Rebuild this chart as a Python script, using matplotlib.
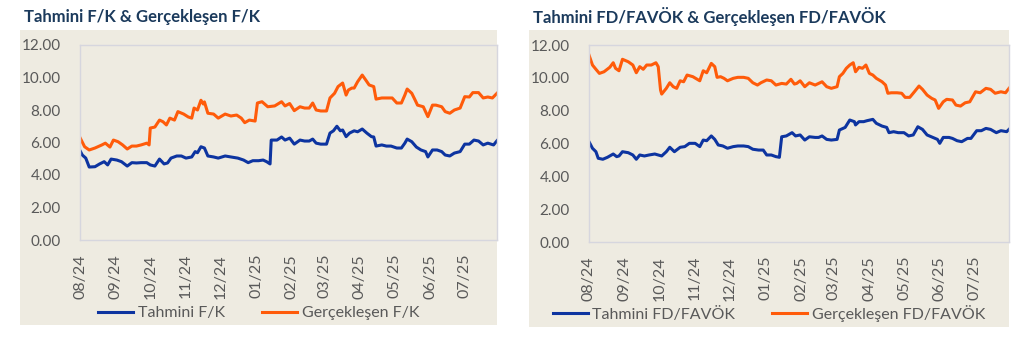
import pandas as pd
import matplotlib
matplotlib.use("Agg")
import matplotlib.pyplot as plt
import matplotlib.dates as mdates
from matplotlib.patches import Rectangle

# --- Sol grafik: Tahmini F/K & Gerçekleşen F/K ---
fk_tahmini_dates = [
    "2024-08-01", "2024-08-03", "2024-08-06", "2024-08-09", "2024-08-14", "2024-08-18", "2024-08-22", "2024-08-25", "2024-08-28",
    "2024-09-02", "2024-09-06", "2024-09-11", "2024-09-15", "2024-09-19", "2024-09-23", "2024-09-28",
    "2024-10-01", "2024-10-05", "2024-10-09", "2024-10-13", "2024-10-16", "2024-10-19", "2024-10-24", "2024-10-28",
    "2024-11-01", "2024-11-06", "2024-11-09", "2024-11-11", "2024-11-14", "2024-11-17", "2024-11-20", "2024-11-25", "2024-11-29",
    "2024-12-05", "2024-12-10", "2024-12-16", "2024-12-21", "2024-12-25", "2024-12-29",
    "2025-01-03", "2025-01-07", "2025-01-10", "2025-01-13", "2025-01-14", "2025-01-19", "2025-01-23", "2025-01-26", "2025-01-30",
    "2025-02-03", "2025-02-08", "2025-02-12", "2025-02-16", "2025-02-19", "2025-02-22", "2025-02-26",
    "2025-03-03", "2025-03-06", "2025-03-09", "2025-03-12", "2025-03-15", "2025-03-17", "2025-03-20", "2025-03-23", "2025-03-27", "2025-03-30",
    "2025-04-03", "2025-04-07", "2025-04-11", "2025-04-13", "2025-04-15", "2025-04-20", "2025-04-24", "2025-04-28",
    "2025-05-03", "2025-05-07", "2025-05-10", "2025-05-12", "2025-05-16", "2025-05-20", "2025-05-24", "2025-05-28", "2025-05-30",
    "2025-06-03", "2025-06-07", "2025-06-11", "2025-06-14", "2025-06-18", "2025-06-22", "2025-06-27",
    "2025-07-01", "2025-07-05", "2025-07-09", "2025-07-13", "2025-07-17", "2025-07-21", "2025-07-26", "2025-07-29",
]
fk_tahmini = [
    5.50, 5.23, 5.04, 4.49, 4.51, 4.68, 4.82, 4.62, 4.98,
    4.92, 4.82, 4.55, 4.76, 4.74, 4.76, 4.76,
    4.62, 4.55, 4.98, 4.68, 4.74, 5.04, 5.17, 5.17,
    5.04, 5.11, 5.44, 5.37, 5.74, 5.66, 5.17, 5.11, 5.04,
    5.17, 5.11, 5.04, 4.92, 4.76, 4.88,
    4.88, 4.92, 4.82, 4.68, 6.15, 6.15, 6.34, 6.15, 6.27,
    5.90, 6.15, 6.09, 6.09, 6.21, 5.96, 5.90,
    5.90, 6.58, 6.72, 7.00, 6.72, 6.77, 6.36, 6.58, 6.72, 6.66,
    6.83, 6.58, 6.36, 6.34, 5.78, 5.85, 5.78, 5.78,
    5.66, 5.66, 5.96, 6.21, 6.05, 5.72, 5.54, 5.44, 5.11,
    5.54, 5.54, 5.44, 5.23, 5.17, 5.35, 5.44,
    5.90, 5.90, 6.15, 6.09, 5.85, 5.96, 5.85, 6.11,
]

fk_gercek_dates = [
    "2024-08-01", "2024-08-05", "2024-08-09", "2024-08-14", "2024-08-20", "2024-08-23", "2024-08-27", "2024-08-30",
    "2024-09-03", "2024-09-07", "2024-09-11", "2024-09-15", "2024-09-19", "2024-09-23", "2024-09-28", "2024-09-30",
    "2024-10-01", "2024-10-05", "2024-10-09", "2024-10-12", "2024-10-15", "2024-10-18", "2024-10-22", "2024-10-25", "2024-10-30",
    "2024-11-03", "2024-11-06", "2024-11-08", "2024-11-11", "2024-11-14", "2024-11-16", "2024-11-17", "2024-11-20", "2024-11-25", "2024-11-29",
    "2024-12-05", "2024-12-10", "2024-12-15", "2024-12-19", "2024-12-22", "2024-12-26", "2024-12-31",
    "2025-01-02", "2025-01-06", "2025-01-11", "2025-01-17", "2025-01-23", "2025-01-26", "2025-01-30",
    "2025-02-03", "2025-02-08", "2025-02-12", "2025-02-16", "2025-02-19", "2025-02-22", "2025-02-26",
    "2025-03-03", "2025-03-06", "2025-03-10", "2025-03-13", "2025-03-17", "2025-03-20", "2025-03-22", "2025-03-25", "2025-03-27", "2025-03-30",
    "2025-04-03", "2025-04-06", "2025-04-09", "2025-04-13", "2025-04-15", "2025-04-20", "2025-04-24", "2025-04-29",
    "2025-05-03", "2025-05-07", "2025-05-10", "2025-05-12", "2025-05-16", "2025-05-19", "2025-05-21", "2025-05-26", "2025-05-30",
    "2025-06-03", "2025-06-06", "2025-06-11", "2025-06-14", "2025-06-18", "2025-06-22", "2025-06-27",
    "2025-07-01", "2025-07-05", "2025-07-08", "2025-07-13", "2025-07-17", "2025-07-21", "2025-07-25", "2025-07-29",
]
fk_gercek = [
    6.30, 5.74, 5.54, 5.66, 5.85, 5.96, 5.72, 6.15,
    6.05, 5.85, 5.60, 5.78, 5.78, 5.85, 5.96, 5.85,
    6.89, 6.95, 7.38, 7.28, 7.08, 7.50, 7.38, 7.90, 7.75,
    7.57, 7.50, 8.12, 8.00, 8.60, 8.37, 8.50, 7.80, 7.75, 7.50,
    7.75, 7.63, 7.69, 7.50, 7.22, 7.38, 7.32,
    8.43, 8.51, 8.20, 8.25, 8.51, 8.25, 8.40,
    7.96, 8.20, 8.12, 8.12, 8.43, 8.00, 7.94,
    7.94, 8.74, 9.03, 9.44, 9.66, 8.92, 9.23, 9.35, 9.35, 9.74,
    10.15, 9.85, 9.54, 9.44, 8.67, 8.74, 8.74, 8.74,
    8.43, 8.43, 8.92, 9.29, 9.03, 8.60, 8.30, 8.20, 7.59,
    8.30, 8.30, 8.20, 7.90, 7.80, 8.00, 8.12,
    8.82, 8.80, 9.07, 9.07, 8.74, 8.80, 8.74, 9.03,
]

# --- Sağ grafik: Tahmini FD/FAVÖK & Gerçekleşen FD/FAVÖK ---
fd_tahmini_dates = [
    "2024-08-01", "2024-08-04", "2024-08-07", "2024-08-09", "2024-08-13", "2024-08-17", "2024-08-22", "2024-08-25", "2024-08-27", "2024-08-30",
    "2024-09-04", "2024-09-08", "2024-09-11", "2024-09-14", "2024-09-18", "2024-09-22", "2024-09-27", "2024-09-30",
    "2024-10-03", "2024-10-07", "2024-10-10", "2024-10-14", "2024-10-19", "2024-10-23", "2024-10-27",
    "2024-11-01", "2024-11-05", "2024-11-08", "2024-11-11", "2024-11-15", "2024-11-18", "2024-11-21", "2024-11-25", "2024-11-29",
    "2024-12-04", "2024-12-08", "2024-12-13", "2024-12-17", "2024-12-21", "2024-12-26", "2024-12-30",
    "2025-01-02", "2025-01-06", "2025-01-10", "2025-01-13", "2025-01-15", "2025-01-19", "2025-01-24", "2025-01-27", "2025-01-31",
    "2025-02-04", "2025-02-08", "2025-02-13", "2025-02-16", "2025-02-19", "2025-02-23", "2025-02-27",
    "2025-03-04", "2025-03-06", "2025-03-11", "2025-03-15", "2025-03-19", "2025-03-20", "2025-03-23", "2025-03-27", "2025-03-30",
    "2025-04-04", "2025-04-07", "2025-04-12", "2025-04-16", "2025-04-18", "2025-04-22", "2025-04-26",
    "2025-05-01", "2025-05-05", "2025-05-09", "2025-05-13", "2025-05-17", "2025-05-21", "2025-05-26", "2025-05-30",
    "2025-06-01", "2025-06-04", "2025-06-09", "2025-06-12", "2025-06-16", "2025-06-20", "2025-06-25", "2025-06-28",
    "2025-07-03", "2025-07-07", "2025-07-11", "2025-07-15", "2025-07-20", "2025-07-24", "2025-07-29", "2025-07-31",
]
fd_tahmini = [
    6.11, 5.71, 5.50, 5.10, 5.04, 5.16, 5.36, 5.20, 5.24, 5.50,
    5.44, 5.30, 5.04, 5.30, 5.24, 5.30, 5.36, 5.30,
    5.24, 5.50, 5.77, 5.50, 5.77, 5.81, 6.01,
    6.01, 5.81, 6.21, 6.17, 6.46, 6.25, 5.91, 5.85, 5.71,
    5.81, 5.85, 5.85, 5.81, 5.65, 5.60, 5.60,
    5.30, 5.30, 5.20, 5.16, 6.41, 6.46, 6.66, 6.46, 6.52,
    6.21, 6.41, 6.37, 6.37, 6.46, 6.25, 6.21,
    6.25, 6.82, 6.98, 7.43, 7.33, 7.13, 7.33, 7.33, 7.39,
    7.47, 7.23, 7.06, 6.98, 6.66, 6.72, 6.66,
    6.66, 6.46, 6.52, 7.02, 6.86, 6.52, 6.37, 6.25,
    6.01, 6.37, 6.37, 6.31, 6.17, 6.11, 6.31, 6.31,
    6.78, 6.78, 6.92, 6.86, 6.66, 6.78, 6.72, 6.86,
]

fd_gercek_dates = [
    "2024-08-01", "2024-08-04", "2024-08-07", "2024-08-10", "2024-08-14", "2024-08-19", "2024-08-22", "2024-08-24", "2024-08-27", "2024-08-30",
    "2024-09-04", "2024-09-08", "2024-09-11", "2024-09-14", "2024-09-17", "2024-09-20", "2024-09-24", "2024-09-28", "2024-09-30",
    "2024-10-02", "2024-10-03", "2024-10-07", "2024-10-10", "2024-10-13", "2024-10-16", "2024-10-19", "2024-10-22", "2024-10-25", "2024-10-30",
    "2024-11-05", "2024-11-08", "2024-11-11", "2024-11-15", "2024-11-18", "2024-11-20", "2024-11-23", "2024-11-26", "2024-11-29",
    "2024-12-04", "2024-12-08", "2024-12-13", "2024-12-17", "2024-12-21", "2024-12-25", "2024-12-28",
    "2025-01-02", "2025-01-06", "2025-01-10", "2025-01-15", "2025-01-19", "2025-01-23", "2025-01-26", "2025-01-28", "2025-01-31",
    "2025-02-04", "2025-02-08", "2025-02-13", "2025-02-16", "2025-02-19", "2025-02-23", "2025-02-27",
    "2025-03-04", "2025-03-06", "2025-03-09", "2025-03-12", "2025-03-15", "2025-03-18", "2025-03-20", "2025-03-23", "2025-03-26", "2025-03-29",
    "2025-04-01", "2025-04-04", "2025-04-07", "2025-04-12", "2025-04-15", "2025-04-17", "2025-04-20", "2025-04-25", "2025-04-29",
    "2025-05-02", "2025-05-06", "2025-05-10", "2025-05-14", "2025-05-17", "2025-05-21", "2025-05-25", "2025-05-28", "2025-05-31",
    "2025-06-04", "2025-06-07", "2025-06-12", "2025-06-15", "2025-06-19", "2025-06-23", "2025-06-27",
    "2025-07-02", "2025-07-06", "2025-07-11", "2025-07-15", "2025-07-19", "2025-07-24", "2025-07-28", "2025-07-31",
]
fd_gercek = [
    11.39, 10.78, 10.52, 10.27, 10.37, 10.64, 10.92, 10.58, 10.43, 11.13,
    10.98, 10.78, 10.31, 10.68, 10.52, 10.78, 10.78, 10.92, 10.68,
    9.26, 9.01, 9.36, 9.70, 9.46, 9.36, 9.82, 9.76, 10.17, 10.07,
    9.82, 10.43, 10.31, 10.88, 10.68, 10.03, 10.07, 9.97, 9.82,
    9.97, 10.03, 10.03, 9.97, 9.70, 9.56, 9.70,
    9.87, 9.82, 9.56, 9.66, 9.62, 9.91, 9.62, 9.66, 9.82,
    9.46, 9.70, 9.56, 9.66, 9.76, 9.46, 9.36,
    9.46, 10.07, 10.27, 10.58, 10.78, 10.92, 10.37, 10.64, 10.58, 10.78,
    10.27, 10.17, 9.97, 9.76, 9.56, 9.06, 9.09, 9.09, 9.06,
    8.81, 8.81, 9.15, 9.50, 9.30, 8.95, 8.75, 8.65, 8.14,
    8.54, 8.69, 8.65, 8.34, 8.28, 8.48, 8.54,
    9.15, 9.09, 9.36, 9.30, 9.06, 9.15, 9.09, 9.36,
]

yticks = [0, 2, 4, 6, 8, 10, 12]

# renkler
BLUE = "#0D34A0"
ORANGE = "#FF5B0A"
BG = "#EEEBE1"
TITLE_COLOR = "#1B3A5C"
TEXT_COLOR = "#595959"
FONT = "Lato"

W, H = 1024, 347
fig = plt.figure(figsize=(W / 100, H / 100), dpi=100)
fig.patch.set_facecolor("white")


def fx(px):
    return px / W


def fy(py):
    return 1 - py / H


panels = [
    {
        "title": "Tahmini F/K & Gerçekleşen F/K",
        "bg": (20, 30, 497, 325),
        "ax": (80, 45, 497, 240),
        "series": [
            (fk_tahmini_dates, fk_tahmini, BLUE, "Tahmini F/K"),
            (fk_gercek_dates, fk_gercek, ORANGE, "Gerçekleşen F/K"),
        ],
    },
    {
        "title": "Tahmini FD/FAVÖK & Gerçekleşen FD/FAVÖK",
        "bg": (529, 30, 1009, 327),
        "ax": (589, 45, 1009, 242),
        "series": [
            (fd_tahmini_dates, fd_tahmini, BLUE, "Tahmini FD/FAVÖK"),
            (fd_gercek_dates, fd_gercek, ORANGE, "Gerçekleşen FD/FAVÖK"),
        ],
    },
]

for p in panels:
    x0, y0, x1, y1 = p["bg"]
    fig.patches.append(Rectangle((fx(x0), fy(y1)), fx(x1 - x0), (y1 - y0) / H,
                                 transform=fig.transFigure, facecolor=BG, edgecolor="none", zorder=-5))
    fig.text(fx(x0 + 4), fy(17), p["title"], fontsize=12, fontweight="bold",
             color=TITLE_COLOR, family=FONT, va="center", ha="left")

    a0, b0, a1, b1 = p["ax"]
    ax = fig.add_axes([fx(a0), fy(b1), fx(a1 - a0), (b1 - b0) / H])
    ax.set_zorder(2)
    ax.set_facecolor(BG)

    lines = []
    all_dates = []
    for dates, vals, color, label in p["series"]:
        d = pd.to_datetime(dates)
        all_dates.extend(d)
        ln, = ax.plot(d, vals, color=color, lw=2.2, label=label, solid_joinstyle="round")
        lines.append(ln)

    ax.set_xlim(min(all_dates), max(all_dates))
    ax.set_ylim(0, 12)
    ax.set_yticks(yticks)
    ax.set_yticklabels([f"{v:.2f}" for v in yticks])

    ax.xaxis.set_major_locator(mdates.MonthLocator())
    ax.xaxis.set_major_formatter(mdates.DateFormatter("%m/%y"))

    ax.tick_params(axis="y", length=0, colors=TEXT_COLOR, labelsize=11, pad=14)
    ax.tick_params(axis="x", length=0, colors=TEXT_COLOR, labelsize=11.5, pad=10)
    for lab in ax.get_xticklabels():
        lab.set_rotation(90)
        lab.set_family(FONT)
    for lab in ax.get_yticklabels():
        lab.set_family(FONT)

    for s in ax.spines.values():
        s.set_color("#D6D6DE")
        s.set_linewidth(1.0)

    leg = fig.legend(lines, [l.get_label() for l in lines], loc="center",
                     bbox_to_anchor=(fx((x0 + x1) / 2), fy(313)), ncol=2, frameon=False,
                     prop={"family": FONT, "size": 11.5}, handlelength=2.2,
                     handletextpad=0.3, columnspacing=2.3, labelcolor=TEXT_COLOR)
    leg.set_zorder(3)

fig.savefig("out.png", dpi=100, facecolor="white")
